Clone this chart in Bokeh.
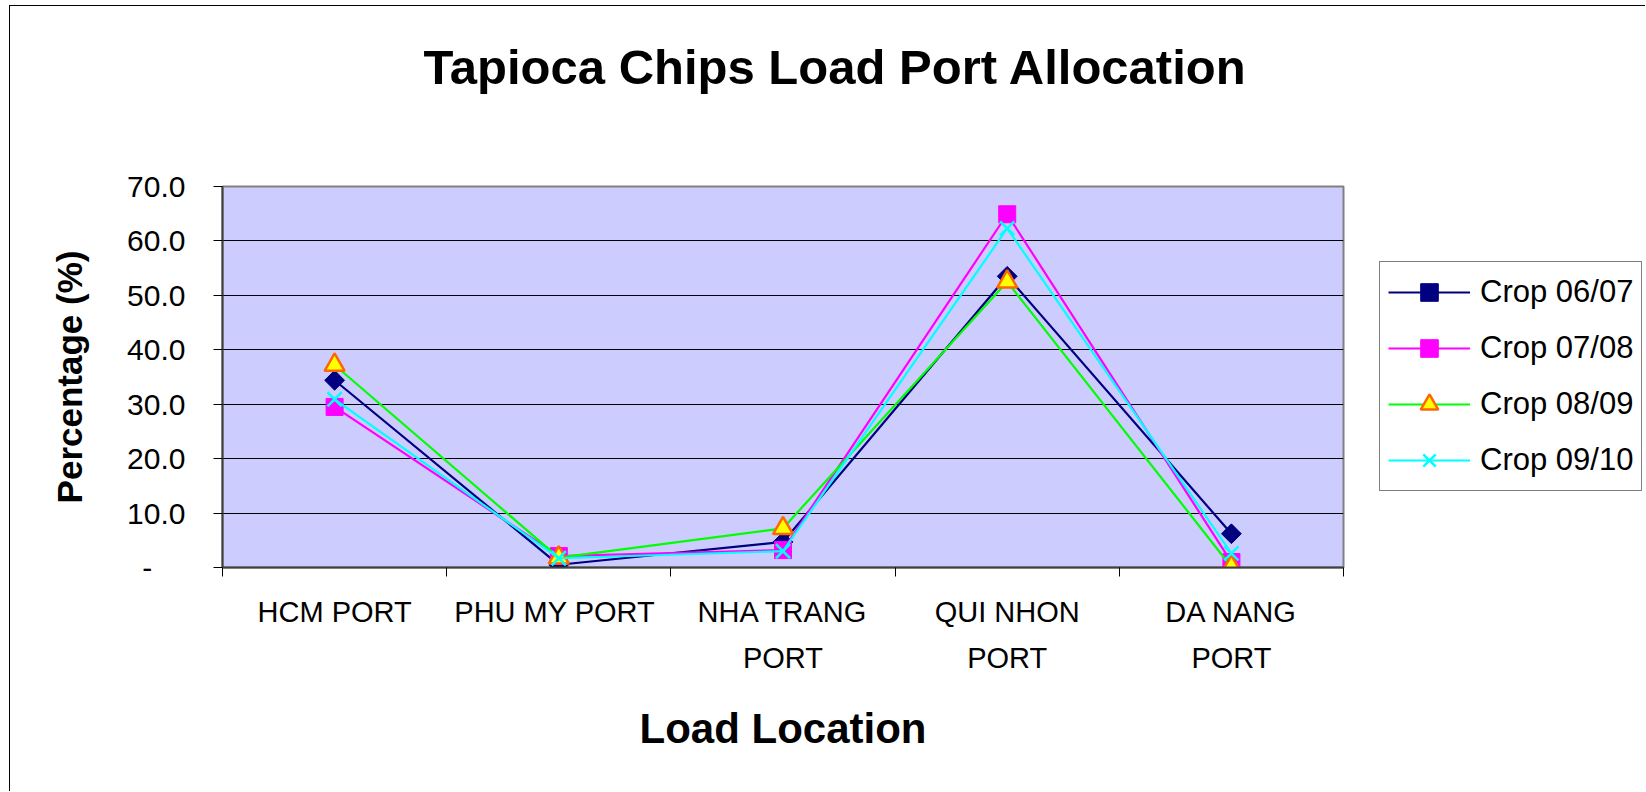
import math
from bokeh.plotting import figure
from bokeh.layouts import row
from bokeh.models import (Legend, LegendItem, FixedTicker, NumeralTickFormatter,
                          Range1d, ColumnDataSource, LinearAxis, Title)
from bokeh.embed import file_html
from bokeh.resources import INLINE

# ---- data ----
categories = ["HCM PORT", "PHU MY  PORT", "NHA TRANG\nPORT", "QUI NHON\nPORT", "DA NANG\nPORT"]
crop_0607 = [34.4, 0.5, 4.7, 53.5, 6.2]
crop_0708 = [29.5, 2.1, 3.2, 64.9, 1.0]
crop_0809 = [37.2, 1.8, 7.2, 52.5, 0.1]
crop_0910 = [30.9, 1.7, 3.0, 62.3, 2.6]
series_names = ["Crop 06/07", "Crop 07/08", "Crop 08/09", "Crop 09/10"]
y_ticks = [0, 10, 20, 30, 40, 50, 60, 70]
chart_title = "Tapioca Chips Load Port Allocation"

FONT = "Liberation Sans"

x_pos = [i + 0.5 for i in range(len(categories))]
boundaries = list(range(len(categories) + 1))

p = figure(frame_width=1121, frame_height=381,
           x_range=Range1d(0, len(categories)), y_range=Range1d(0, 70),
           output_backend="svg", toolbar_location=None,
           min_border_left=212, min_border_right=35,
           min_border_top=180, min_border_bottom=224,
           background_fill_color="#CCCCFF", border_fill_color="white",
           outline_line_color="#808080", outline_line_width=2)

xa = p.xaxis[0]
ya = p.yaxis[0]

# empty gap between frame and title (an invisible axis used as a spacer)
gap = LinearAxis(ticker=FixedTicker(ticks=[boundaries[0]]), major_tick_out=88, major_tick_in=0,
                 minor_tick_out=0, minor_tick_in=0, major_tick_line_color=None,
                 minor_tick_line_color=None, axis_line_color=None,
                 major_label_standoff=0, major_label_text_font_size="1px",
                 major_label_text_alpha=0, axis_label=None)
p.add_layout(gap, "above")

title = Title(text=chart_title, text_font=FONT, text_font_style="bold",
              text_font_size="49px", align="left", offset=201, standoff=10,
              text_color="black")
p.add_layout(title, "above")

# grids
p.xgrid.grid_line_color = None
p.ygrid.ticker = FixedTicker(ticks=y_ticks)
p.ygrid.grid_line_color = "black"
p.ygrid.grid_line_width = 1

# x axis
xa.ticker = FixedTicker(ticks=x_pos, minor_ticks=boundaries)
xa.major_label_overrides = dict(zip(x_pos, categories))
xa.major_tick_out = 0
xa.major_tick_in = 0
xa.minor_tick_out = 9
xa.minor_tick_in = 0
xa.minor_tick_line_color = "black"
xa.axis_line_color = "#404040"
xa.axis_line_width = 2
xa.major_label_text_font = FONT
xa.major_label_text_font_size = "29px"
xa.major_label_text_line_height = 1.45
xa.major_label_text_color = "black"
xa.major_label_standoff = 19
xa.axis_label = "Load Location"
xa.axis_label_text_font = FONT
xa.axis_label_text_font_style = "bold"
xa.axis_label_text_font_size = "42px"
xa.axis_label_text_color = "black"
xa.axis_label_standoff = 28

# y axis
ya.ticker = FixedTicker(ticks=y_ticks)
ya.formatter = NumeralTickFormatter(format="0.0")
ya.major_label_overrides = {0: "-\u00a0\u00a0\u00a0\u00a0"}
ya.major_tick_out = 9
ya.major_tick_in = 0
ya.minor_tick_out = 0
ya.minor_tick_in = 0
ya.major_tick_line_color = "black"
ya.axis_line_color = "#404040"
ya.axis_line_width = 2
ya.major_label_text_font = FONT
ya.major_label_text_font_size = "30px"
ya.major_label_text_color = "black"
ya.major_label_standoff = 28
ya.axis_label = "Percentage (%)"
ya.axis_label_text_font = FONT
ya.axis_label_text_font_style = "bold"
ya.axis_label_text_font_size = "35px"
ya.axis_label_text_color = "black"
ya.axis_label_standoff = 35

# series
styles = [
    dict(color="#000080", marker="square", size=14, angle=math.pi / 4,
         fill_color="#000080", line_color="#000080", mlw=1),
    dict(color="#FF00FF", marker="square", size=17, angle=0,
         fill_color="#FF00FF", line_color="#FF00FF", mlw=1),
    dict(color="#00FF00", marker="triangle", size=20, angle=0,
         fill_color="#FFFF00", line_color="#FF6600", mlw=2.5),
    dict(color="#00FFFF", marker="x", size=20, angle=0,
         fill_color=None, line_color="#00FFFF", mlw=2.5),
]
data = [crop_0607, crop_0708, crop_0809, crop_0910]

sources = []
for name, vals, st in zip(series_names, data, styles):
    src = ColumnDataSource(dict(x=x_pos, y=vals))
    sources.append(src)
    p.line("x", "y", source=src, line_color=st["color"], line_width=2.2)
    p.scatter("x", "y", source=src, marker=st["marker"], size=st["size"],
              angle=st["angle"], fill_color=st["fill_color"],
              line_color=st["line_color"], line_width=st["mlw"])

# legend panel: a second, axis-less figure holding only the legend.
# Its ranges lie outside the data, so its copies of the series stay hidden
# and only serve as legend swatches.
pl = figure(width=267, height=785, x_range=Range1d(-2, -1), y_range=Range1d(-2, -1),
            x_axis_type=None, y_axis_type=None, output_backend="svg",
            toolbar_location=None, min_border=0, outline_line_color=None,
            background_fill_color="white", border_fill_color="white")
pl.xgrid.visible = False
pl.ygrid.visible = False

items = []
for name, src, st in zip(series_names, sources, styles):
    ln = pl.line("x", "y", source=src, line_color=st["color"], line_width=2.2)
    sc = pl.scatter("x", "y", source=src, marker=st["marker"], size=st["size"],
                    angle=st["angle"], fill_color=st["fill_color"],
                    line_color=st["line_color"], line_width=st["mlw"])
    items.append(LegendItem(label=name, renderers=[ln, sc]))

legend = Legend(items=items, location=(1, 76),
                glyph_width=82, glyph_height=44, label_height=44,
                label_standoff=10, spacing=12, padding=8, margin=0,
                border_line_color="black", border_line_width=1,
                background_fill_color="white", background_fill_alpha=1,
                label_text_font=FONT, label_text_font_size="31px",
                label_text_color="black")
pl.add_layout(legend, "center")

layout = row(p, pl, spacing=0)
layout.styles = {"margin-left": "9px", "margin-top": "5px",
                 "border-left": "1px solid black", "border-top": "1px solid black"}

open("out.html", "w").write(file_html(layout, INLINE))
